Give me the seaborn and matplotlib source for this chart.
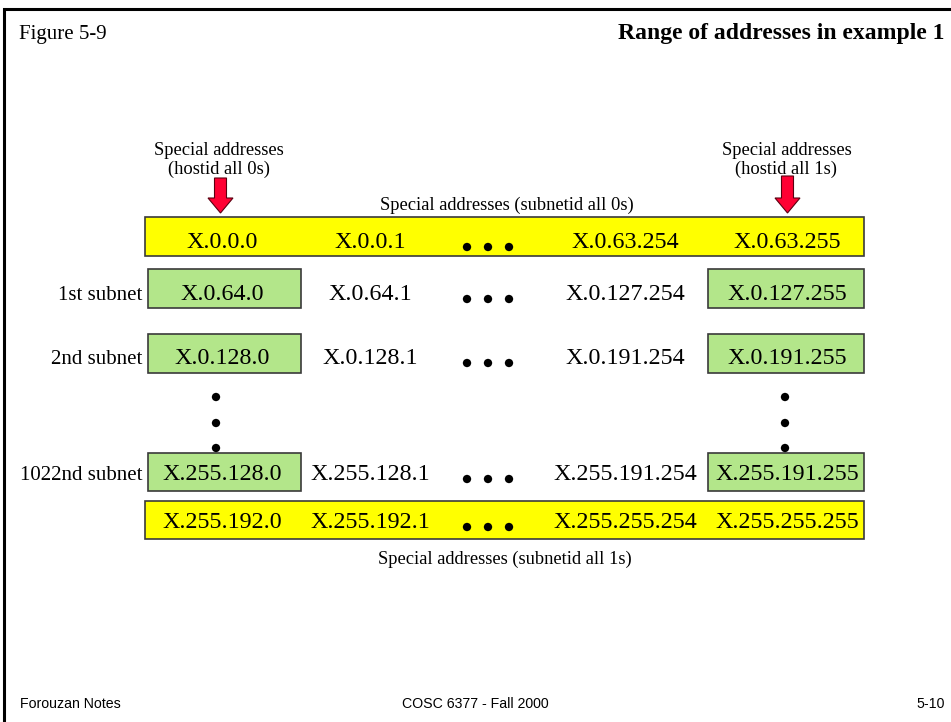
import matplotlib
matplotlib.use("Agg")
import matplotlib.pyplot as plt
from matplotlib.patches import Rectangle, Polygon
import seaborn as sns
import pandas as pd

# ---------------- data ----------------
row_labels = ["", "1st subnet", "2nd subnet", "1022nd subnet", ""]
first_addr = ["X.0.0.0", "X.0.64.0", "X.0.128.0", "X.255.128.0", "X.255.192.0"]
second_addr = ["X.0.0.1", "X.0.64.1", "X.0.128.1", "X.255.128.1", "X.255.192.1"]
penult_addr = ["X.0.63.254", "X.0.127.254", "X.0.191.254", "X.255.191.254", "X.255.255.254"]
last_addr = ["X.0.63.255", "X.0.127.255", "X.0.191.255", "X.255.191.255", "X.255.255.255"]
row_kind = ["special", "subnet", "subnet", "subnet", "special"]

title = "Range of addresses in example 1"
fig_label = "Figure 5-9"
top_note = "Special addresses (subnetid all 0s)"
bottom_note = "Special addresses (subnetid all 1s)"
left_note = ["Special addresses", "(hostid all 0s)"]
right_note = ["Special addresses", "(hostid all 1s)"]
footer = ["Forouzan Notes", "COSC 6377 - Fall 2000", "5-10"]

# ---------------- layout (pixels) ----------------
W, H = 951, 722
row_top = [217, 269, 334, 453, 501]
row_bot = [256, 308, 373, 491, 539]
row_base = [248, 300, 364, 480, 528]
col_x = [222, 370, 625, 787]
dots_x = [467, 488, 509]
vdots_y = [397, 423, 448]
vdots_x = [216, 785]

YELLOW = "#FFFF00"
GREEN = "#B3E68A"
EDGE = "#3a3a3a"
RED = "#FF0033"

sns.set_theme(style="white")
plt.rcParams["font.family"] = ["Liberation Serif", "DejaVu Serif"]
plt.rcParams["text.color"] = "black"

fig = plt.figure(figsize=(W / 100, H / 100), dpi=100)
ax = fig.add_axes([0, 0, 1, 1])

# ellipsis dots (horizontal and vertical)
dot_rows = []
for i in range(len(row_kind)):
    for dx in dots_x:
        dot_rows.append({"x": dx, "y": row_base[i] - 1})
for vx in vdots_x:
    for vy in vdots_y:
        dot_rows.append({"x": vx, "y": vy})
dots = pd.DataFrame(dot_rows)
sns.scatterplot(data=dots, x="x", y="y", ax=ax, color="black", s=36,
                edgecolor="none", zorder=4, legend=False)

ax.set_xlim(0, W)
ax.set_ylim(H, 0)
ax.axis("off")

# slide frame (top and left edges)
ax.plot([4, 4, W + 5], [H + 5, 9, 9], color="black", lw=2.2, solid_joinstyle="miter")

# boxes
for i, kind in enumerate(row_kind):
    t, b = row_top[i], row_bot[i]
    if kind == "special":
        ax.add_patch(Rectangle((145, t), 864 - 145, b - t, facecolor=YELLOW,
                               edgecolor=EDGE, lw=1.2, zorder=1))
    else:
        ax.add_patch(Rectangle((148, t), 301 - 148, b - t, facecolor=GREEN,
                               edgecolor=EDGE, lw=1.2, zorder=1))
        ax.add_patch(Rectangle((708, t), 864 - 708, b - t, facecolor=GREEN,
                               edgecolor=EDGE, lw=1.2, zorder=1))

# address texts
ADDR_FS = 17.3
for i in range(len(row_kind)):
    y = row_base[i]
    for cx, col in zip(col_x, [first_addr, second_addr, penult_addr, last_addr]):
        ax.text(cx, y, col[i], ha="center", va="baseline", fontsize=ADDR_FS,
                color="black", zorder=3)
    if row_labels[i]:
        ax.text(142, y, row_labels[i], ha="right", va="baseline", fontsize=15,
                color="black", zorder=3)

# arrows
def down_arrow(cx, top):
    pts = [(cx - 6, top), (cx + 6, top), (cx + 6, 198), (cx + 12.5, 198),
           (cx, 213), (cx - 12.5, 198), (cx - 6, 198)]
    ax.add_patch(Polygon(pts, closed=True, facecolor=RED, edgecolor="#5a0010",
                         lw=0.8, zorder=5))

down_arrow(220.5, 178)
down_arrow(787.5, 176)

# notes
NOTE_FS = 13.3
ax.text(219, 155, left_note[0], ha="center", va="baseline", fontsize=NOTE_FS)
ax.text(219, 174, left_note[1], ha="center", va="baseline", fontsize=NOTE_FS)
ax.text(787, 155, right_note[0], ha="center", va="baseline", fontsize=NOTE_FS)
ax.text(786, 174, right_note[1], ha="center", va="baseline", fontsize=NOTE_FS, zorder=2)
ax.text(507, 210, top_note, ha="center", va="baseline", fontsize=NOTE_FS)
ax.text(505, 564, bottom_note, ha="center", va="baseline", fontsize=NOTE_FS)

# header
ax.text(19, 39, fig_label, ha="left", va="baseline", fontsize=15)
ax.text(945, 39, title, ha="right", va="baseline", fontsize=17, fontweight="bold")

# footer
sans = ["Liberation Sans", "DejaVu Sans"]
ax.text(20, 708, footer[0], ha="left", va="baseline", fontsize=10.2, family=sans)
ax.text(475, 708, footer[1], ha="center", va="baseline", fontsize=10.2, family=sans)
ax.text(945, 708, footer[2], ha="right", va="baseline", fontsize=10.2, family=sans)

fig.savefig("out.png", dpi=100, facecolor="white")
